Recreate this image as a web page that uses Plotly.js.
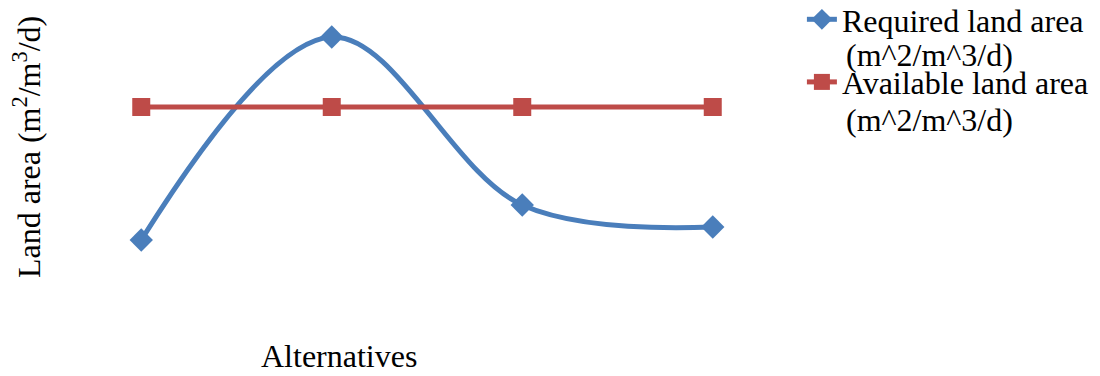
<!DOCTYPE html>
<html>
<head>
<meta charset="utf-8">
<script src="https://cdn.plot.ly/plotly-3.0.1.min.js"></script>
<style>html,body{margin:0;padding:0;background:#fff;}#chart{width:1100px;height:376px;}</style>
</head>
<body>
<div id="chart"></div>
<script>
const categories = ["Alternative 1", "Alternative 2", "Alternative 3", "Alternative 4"];
const requiredArea = [0.70, 2.73, 1.05, 0.83];
const availableArea = [2.03, 2.03, 2.03, 2.03];
const seriesNames = ["Required land area", "Available land area"];
const seriesUnits = ["(m^2/m^3/d)", "(m^2/m^3/d)"];
const xTitle = "Alternatives";
const yTitle = "Land area (m<sup>2</sup>/m<sup>3</sup>/d)";

const font = "Liberation Serif, Times New Roman, serif";
const FS = 32;

const traces = [
  {
    x: categories, y: requiredArea, name: seriesNames[0], legendgroup: "g1", type: "scatter", mode: "lines+markers",
    line: {color: "#4A7EBB", width: 5, shape: "spline", smoothing: 1},
    marker: {symbol: "diamond", size: 18, color: "#4A7EBB"}
  },
  {
    x: categories, y: availableArea, name: seriesNames[1], legendgroup: "g2", type: "scatter", mode: "lines+markers",
    line: {color: "#BE4B48", width: 5},
    marker: {symbol: "square", size: 18, color: "#BE4B48"}
  }
];

const layout = {
  width: 1100, height: 376,
  margin: {l: 46, r: 292, t: 10, b: 66, autoexpand: false},
  paper_bgcolor: "#fff", plot_bgcolor: "#fff",
  font: {family: font, size: FS, color: "#000"},
  showlegend: true,
  legend: {x: 0.992, xanchor: "left", y: 1.06, yanchor: "top", valign: "top",
           font: {family: font, size: FS, color: "#000"}, tracegroupgap: 18, bgcolor: "rgba(0,0,0,0)"},
  xaxis: {type: "category", range: [-0.5, 3.5], showticklabels: false, showgrid: false, zeroline: false, showline: false, ticks: ""},
  yaxis: {range: [0, 3], showticklabels: false, showgrid: false, zeroline: false, showline: false, ticks: ""},
  annotations: [
    {text: xTitle, xref: "paper", yref: "paper", x: 0.385, y: -0.22, xanchor: "center", yanchor: "bottom", showarrow: false, font: {family: font, size: FS}},
    {text: yTitle, xref: "paper", yref: "paper", x: -0.025, xanchor: "center", y: 0.543, yanchor: "middle", textangle: -90, showarrow: false, font: {family: font, size: FS}},
    {text: seriesUnits[0], xref: "paper", yref: "paper", x: 1.047, y: 0.85, xanchor: "left", yanchor: "middle", showarrow: false, font: {family: font, size: FS}},
    {text: seriesUnits[1], xref: "paper", yref: "paper", x: 1.047, y: 0.633, xanchor: "left", yanchor: "middle", showarrow: false, font: {family: font, size: FS}}
  ]
};

Plotly.newPlot("chart", traces, layout, {displayModeBar: false, responsive: false});
</script>
</body>
</html>
